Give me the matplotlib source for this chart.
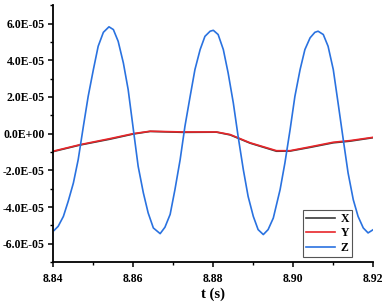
import matplotlib
matplotlib.use("Agg")
import matplotlib.pyplot as plt
from matplotlib.ticker import FixedLocator, FuncFormatter, MultipleLocator

# Z series
z_t = [8.8403, 8.8413, 8.8426, 8.8438, 8.8451, 8.8463, 8.8476, 8.8488, 8.8501, 8.8513,
       8.8526, 8.8540, 8.8551, 8.8563, 8.8576, 8.8588, 8.8601, 8.8613, 8.8626, 8.8638,
       8.8651, 8.8668, 8.8680, 8.8693, 8.8705, 8.8718, 8.8730, 8.8743, 8.8755, 8.8768,
       8.8780, 8.8793, 8.8801, 8.8813, 8.8826, 8.8838, 8.8851, 8.8863, 8.8876, 8.8888,
       8.8901, 8.8913, 8.8926, 8.8938, 8.8951, 8.8968, 8.8980, 8.8993, 8.9005, 8.9018,
       8.9030, 8.9043, 8.9055, 8.9063, 8.9076, 8.9088, 8.9101, 8.9113, 8.9126, 8.9138,
       8.9151, 8.9163, 8.9176, 8.9188, 8.9201]
z_v = [-5.27e-5, -5.05e-5, -4.51e-5, -3.69e-5, -2.69e-5, -1.42e-5, 0.40e-5, 2.03e-5, 3.49e-5, 4.76e-5,
       5.52e-5, 5.82e-5, 5.67e-5, 5.03e-5, 3.85e-5, 2.40e-5, 0.22e-5, -1.78e-5, -3.23e-5, -4.32e-5,
       -5.14e-5, -5.45e-5, -5.10e-5, -4.40e-5, -3.05e-5, -1.42e-5, 0.40e-5, 2.03e-5, 3.49e-5, 4.58e-5,
       5.30e-5, 5.58e-5, 5.63e-5, 5.40e-5, 4.58e-5, 3.31e-5, 1.67e-5, -0.15e-5, -1.96e-5, -3.42e-5,
       -4.51e-5, -5.23e-5, -5.50e-5, -5.23e-5, -4.60e-5, -3.05e-5, -1.60e-5, 0.22e-5, 2.03e-5, 3.49e-5,
       4.58e-5, 5.22e-5, 5.52e-5, 5.58e-5, 5.40e-5, 4.76e-5, 3.49e-5, 1.67e-5, -0.33e-5, -2.14e-5,
       -3.60e-5, -4.51e-5, -5.14e-5, -5.41e-5, -5.23e-5]

# X and Y series
xy_t = [8.84, 8.8468, 8.8543, 8.8601, 8.8643, 8.8725, 8.8809, 8.8843, 8.8893,
        8.8959, 8.8993, 8.9043, 8.9101, 8.9143, 8.9201]
y_v = [-0.96e-5, -0.6e-5, -0.27e-5, 0.0, 0.13e-5, 0.09e-5, 0.09e-5, -0.05e-5, -0.5e-5,
       -0.93e-5, -0.93e-5, -0.72e-5, -0.47e-5, -0.38e-5, -0.2e-5]
x_v = [-0.98e-5, -0.62e-5, -0.3e-5, -0.02e-5, 0.12e-5, 0.07e-5, 0.08e-5, -0.07e-5, -0.52e-5,
       -0.96e-5, -0.95e-5, -0.75e-5, -0.5e-5, -0.41e-5, -0.22e-5]

y_ticks = [-6e-5, -4e-5, -2e-5, 0.0, 2e-5, 4e-5, 6e-5]
y_minor = [-7e-5, -5e-5, -3e-5, -1e-5, 1e-5, 3e-5, 5e-5, 7e-5]
x_ticks = [8.84, 8.86, 8.88, 8.90, 8.92]
x_ticklabels = ["8.84", "8.86", "8.88", "8.90", "8.92"]

plt.rcParams['font.family'] = ['Liberation Serif', 'DejaVu Serif']

fig = plt.figure(figsize=(3.84, 3.03), dpi=100)
ax = fig.add_axes([0.138, 0.135, 0.833, 0.848])

ax.plot(xy_t, x_v, color='#3a3a3a', lw=1.2, label='X')
ax.plot(xy_t, y_v, color='#e8262a', lw=1.2, label='Y')
ax.plot(z_t, z_v, color='#2a72e0', lw=1.2, label='Z')

ax.set_xlim(8.84, 8.92)
ax.set_ylim(-7e-5, 7e-5)
ax.xaxis.set_major_locator(FixedLocator(x_ticks))
ax.set_xticklabels(x_ticklabels)
ax.xaxis.set_minor_locator(MultipleLocator(0.01))
ax.yaxis.set_major_locator(FixedLocator(y_ticks))
ax.yaxis.set_major_formatter(FuncFormatter(lambda v, p: f"{v:.1E}"))
ax.yaxis.set_minor_locator(FixedLocator(y_minor))

for s in ['top', 'right']:
    ax.spines[s].set_visible(False)
for s in ['left', 'bottom']:
    ax.spines[s].set_linewidth(1.3)

ax.tick_params(which='major', direction='out', length=3.5, width=1.1, labelsize=8.5)
ax.tick_params(axis='x', which='major', pad=4)
ax.tick_params(axis='y', which='major', pad=2.5)
ax.tick_params(which='minor', direction='out', length=2.2, width=1.0)
for lab in ax.get_xticklabels() + ax.get_yticklabels():
    lab.set_fontweight('bold')

ax.set_xlabel('t (s)', fontsize=10.5, fontweight='bold', labelpad=2)

leg = ax.legend(loc='lower right', bbox_to_anchor=(0.935, 0.021), fontsize=8.5,
                fancybox=False, framealpha=1, edgecolor='#555555',
                handlelength=2.4, borderpad=0.25, labelspacing=0.2,
                handletextpad=0.5, borderaxespad=0.0)
leg.get_frame().set_linewidth(0.8)
for t in leg.get_texts():
    t.set_fontweight('bold')

fig.savefig('out.png', dpi=100)
